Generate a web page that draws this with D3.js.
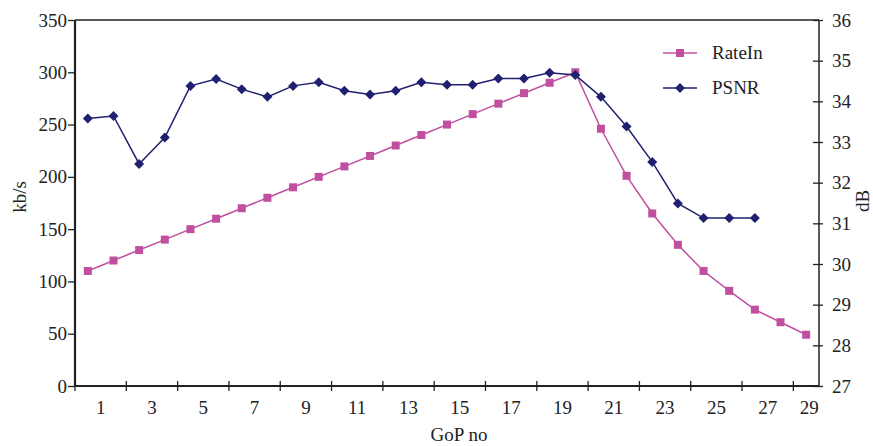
<!DOCTYPE html>
<html><head><meta charset="utf-8">
<script src="https://cdn.jsdelivr.net/npm/d3@7"></script>
<style>body{margin:0;background:#fff}svg{display:block}text{font-family:"Liberation Serif","DejaVu Serif",serif;fill:#222}</style>
</head><body>
<svg id="c" width="873" height="446"></svg>
<script>
const gop = d3.range(1, 30);
const rateIn = [110,120,130,140,150,160,170,180,190,200,210,220,230,240,250,260,270,280,290,300,246,201,165,135,110,91,73,61,49];
const psnr = [33.58,33.64,32.46,33.11,34.38,34.55,34.30,34.11,34.38,34.47,34.26,34.17,34.26,34.47,34.41,34.41,34.56,34.56,34.70,34.65,34.11,33.38,32.51,31.49,31.13,31.13,31.13];
const leftTicks = [0,50,100,150,200,250,300,350];
const rightTicks = [27,28,29,30,31,32,33,34,35,36];
const xLabels = [1,3,5,7,9,11,13,15,17,19,21,23,25,27,29];
const seriesNames = ["RateIn","PSNR"];
const colors = {RateIn:"#c04fa0", PSNR:"#1f2070"};

const L=75, R=819, T=20, B=386;
const svg = d3.select("#c");
const x = d3.scaleBand().domain(gop).range([L,R]).paddingInner(0).paddingOuter(0);
const yL = d3.scaleLinear().domain([0,350]).range([B,T]);
const yR = d3.scaleLinear().domain([27,36]).range([B,T]);
const cx = d => x(d) + x.bandwidth()/2;

// frame top
svg.append("line").attr("x1",L).attr("x2",R).attr("y1",T).attr("y2",T).attr("stroke","#222").attr("stroke-width",1.3);

// left axis
const gl = svg.append("g").attr("transform",`translate(${L},0)`)
  .call(d3.axisLeft(yL).tickValues(leftTicks).tickSize(7).tickPadding(1));
gl.select(".domain").attr("stroke","#222").attr("stroke-width",2.2).attr("d",`M0,${T}V${B}`);
gl.selectAll(".tick line").attr("stroke","#222").attr("stroke-width",1.3);
gl.selectAll(".tick text").style("font-size","19px").style("font-family","Liberation Serif").attr("fill","#222");

// right axis
const gr = svg.append("g").attr("transform",`translate(${R},0)`)
  .call(d3.axisRight(yR).tickValues(rightTicks).tickSize(4).tickPadding(9));
gr.select(".domain").attr("stroke","#222").attr("stroke-width",1.5).attr("d",`M0,${T}V${B}`);
gr.selectAll(".tick line").attr("stroke","#222").attr("stroke-width",1.3).attr("x1",-6);
gr.selectAll(".tick text").style("font-size","19px").style("font-family","Liberation Serif").attr("fill","#222");

// bottom axis
const tickBounds = d3.range(0, 29, 2).map(i => L + i*x.bandwidth());
const gb = svg.append("g");
gb.append("line").attr("x1",L).attr("x2",R).attr("y1",B).attr("y2",B).attr("stroke","#222").attr("stroke-width",2.2);
gb.selectAll("line.t").data(tickBounds).join("line").attr("class","t")
  .attr("x1",d=>d).attr("x2",d=>d).attr("y1",B-5).attr("y2",B+5).attr("stroke","#222").attr("stroke-width",1.3);
gb.selectAll("text").data(xLabels).join("text")
  .attr("x", d => d < 29 ? x(d) + x.bandwidth() : (x(d) + R)/2 + 3)
  .attr("y", 414).attr("text-anchor","middle").style("font-size","19px").text(d=>d);

// axis titles
svg.append("text").attr("x",459).attr("y",441).attr("text-anchor","middle").style("font-size","19px").text("GoP no");
svg.append("text").attr("transform","translate(26,197) rotate(-90)").attr("text-anchor","middle").style("font-size","19px").text("kb/s");
svg.append("text").attr("transform","translate(869,201) rotate(-90)").attr("text-anchor","middle").style("font-size","19px").text("dB");

// RateIn series
const lineL = d3.line().x((d,i)=>cx(gop[i])).y(d=>yL(d));
svg.append("path").attr("d",lineL(rateIn)).attr("fill","none").attr("stroke",colors.RateIn).attr("stroke-width",1.5);
svg.selectAll("rect.r").data(rateIn).join("rect").attr("class","r")
  .attr("x",(d,i)=>cx(gop[i])-4).attr("y",d=>yL(d)-4).attr("width",8).attr("height",8).attr("fill",colors.RateIn);

// PSNR series
const lineR = d3.line().x((d,i)=>cx(gop[i])).y(d=>yR(d));
svg.append("path").attr("d",lineR(psnr)).attr("fill","none").attr("stroke",colors.PSNR).attr("stroke-width",1.5);
const dia = s => `M0,${-s}L${s},0L0,${s}L${-s},0Z`;
svg.selectAll("path.p").data(psnr).join("path").attr("class","p")
  .attr("transform",(d,i)=>`translate(${cx(gop[i])},${yR(d)})`).attr("d",dia(5)).attr("fill",colors.PSNR);

// legend
const lg = svg.append("g");
seriesNames.forEach((n,i)=>{
  const yy = 53 + i*35;
  lg.append("line").attr("x1",663).attr("x2",697).attr("y1",yy).attr("y2",yy).attr("stroke",colors[n]).attr("stroke-width",1.5);
  if(n==="RateIn") lg.append("rect").attr("x",676).attr("y",yy-4).attr("width",8).attr("height",8).attr("fill",colors[n]);
  else lg.append("path").attr("transform",`translate(680,${yy})`).attr("d",dia(5)).attr("fill",colors[n]);
  lg.append("text").attr("x",712).attr("y",yy+6).style("font-size","19px").text(n);
});
</script>
</body></html>
